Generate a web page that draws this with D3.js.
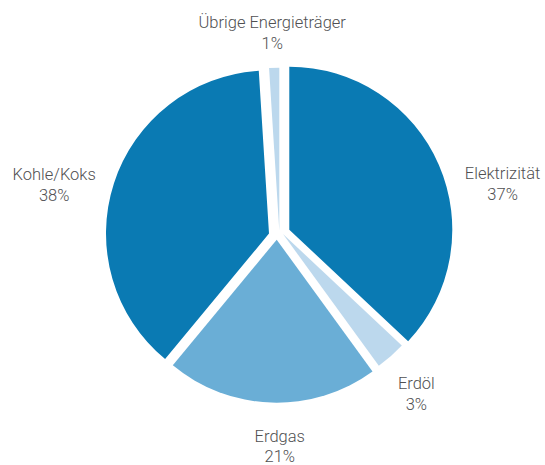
<!DOCTYPE html>
<html><head><meta charset="utf-8">
<script src="https://cdn.jsdelivr.net/npm/d3@7"></script>
<style>
html,body{margin:0;padding:0;background:#fff;}
svg{display:block;}
text{font-family:Roboto,"Noto Sans",sans-serif;font-size:16.5px;font-weight:300;fill:#505052;}
</style></head>
<body>
<svg id="chart" width="545" height="465"></svg>
<script>
// Data
const categories = ["Elektrizität", "Erdöl", "Erdgas", "Kohle/Koks", "Übrige Energieträger"];
const values = [37, 3, 21, 38, 1];
const valueLabels = ["37%", "3%", "21%", "38%", "1%"];
const colors = ["#0a7ab3", "#bcd8ed", "#6aaed6", "#0a7ab3", "#bcd8ed"];

// Layout
const W = 545, H = 465;
const cx = 279, cy = 234, R = 163;
const sliceOffsets = [[10.3, -4.3], [4, 0], [-2.3, 5.7], [-10, -0.5], [0.3, -3.3]];
const labelPolar = [[78.7, 228], [140.3, 215], [179.8, 218], [281.0, 229], [358.0, 196]]; // deg, radius

const svg = d3.select("#chart");
const g = svg.append("g").attr("transform", `translate(${cx},${cy})`);

const pie = d3.pie().sort(null).value(d => d);
const arcs = pie(values);
const arc = d3.arc().innerRadius(0).outerRadius(R);

g.selectAll("path.slice").data(arcs).join("path")
  .attr("class", "slice")
  .attr("d", arc)
  .attr("fill", (d, i) => colors[i])
  .attr("transform", (d, i) => `translate(${sliceOffsets[i][0]},${sliceOffsets[i][1]})`);

const labels = g.selectAll("g.label").data(arcs).join("g")
  .attr("class", "label")
  .attr("transform", (d, i) => {
    const a = labelPolar[i][0] * Math.PI / 180, r = labelPolar[i][1];
    return `translate(${r * Math.sin(a)},${-r * Math.cos(a)})`;
  });
labels.append("text").attr("text-anchor", "middle").attr("y", -10).text((d, i) => categories[i]);
labels.append("text").attr("text-anchor", "middle").attr("y", 10.5).text((d, i) => valueLabels[i]);
</script>
</body></html>
